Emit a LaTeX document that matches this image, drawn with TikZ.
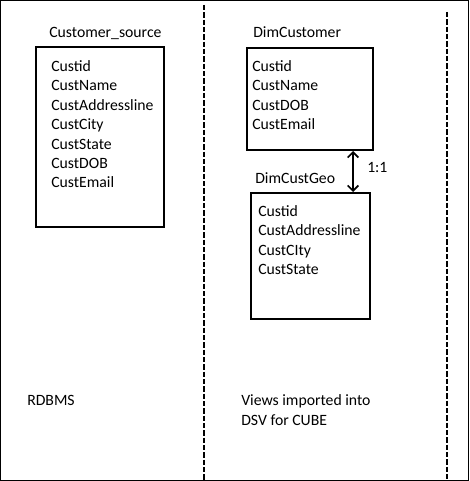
\documentclass[tikz,border=0pt]{standalone}
\usepackage{fontspec}
\setmainfont{Carlito}
\usepackage{tikz}
\usetikzlibrary{arrows.meta,calc}

\begin{document}
\begin{tikzpicture}[x=0.75pt, y=-0.75pt,
        every node/.style={font=\fontsize{11.8pt}{14.6pt}\selectfont, inner sep=0pt},
        tbl/.style={draw=black, line width=1.5pt, rectangle},
        fld/.style={anchor=north west, align=left, font=\fontsize{11.8pt}{14.6pt}\selectfont},
        ttl/.style={anchor=base west},
        sep/.style={line width=1.5pt, dash pattern=on 4pt off 1.5pt}]
        \useasboundingbox (0,0) rectangle (470,481);
        \draw[line width=0.75pt] (0.5,0.5) rectangle (468.5,480.5);
        % layer separators
        \draw[sep] (203.5,5) -- (203.5,481);
        \draw[sep] (447,12) -- (447,481);
        % source table
        \node[tbl, minimum width=96pt, minimum height=135pt] (src) at (100,137) {};
        \node[ttl] (srcT) at (49,38) {Customer\_source};
        \node[fld] (srcF) at (51,60) {Custid\\CustName\\CustAddressline\\CustCity\\CustState\\CustDOB\\CustEmail};
        % views
        \node[tbl, minimum width=94.5pt, minimum height=76.5pt] (dimcust) at (310,99) {};
        \node[ttl] (dimcustT) at (253,38) {DimCustomer};
        \node[fld] (dimcustF) at (252,60) {Custid\\CustName\\CustDOB\\CustEmail};
        \node[tbl, minimum width=89.25pt, minimum height=94.5pt] (geo) at (310.5,256) {};
        \node[ttl] (geoT) at (255,183) {DimCustGeo};
        \node[fld] (geoF) at (258,205) {Custid\\CustAddressline\\CustCIty\\CustState};
        \draw[line width=1.2pt, {Straight Barb[length=4pt,width=8pt]}-{Straight Barb[length=4pt,width=8pt]}]
            ($(dimcust.south)+(43,0)$) -- ($(geo.north)+(42.5,0)$);
        \node[ttl] (ratio) at (367,172) {1:1};
        % layer labels
        \node[ttl] (rdbms) at (27,405) {RDBMS};
        \node[fld, font=\fontsize{11.8pt}{15pt}\selectfont] (dsv) at (241,394) {Views imported into\\DSV for CUBE};
    \end{tikzpicture}
\end{document}
